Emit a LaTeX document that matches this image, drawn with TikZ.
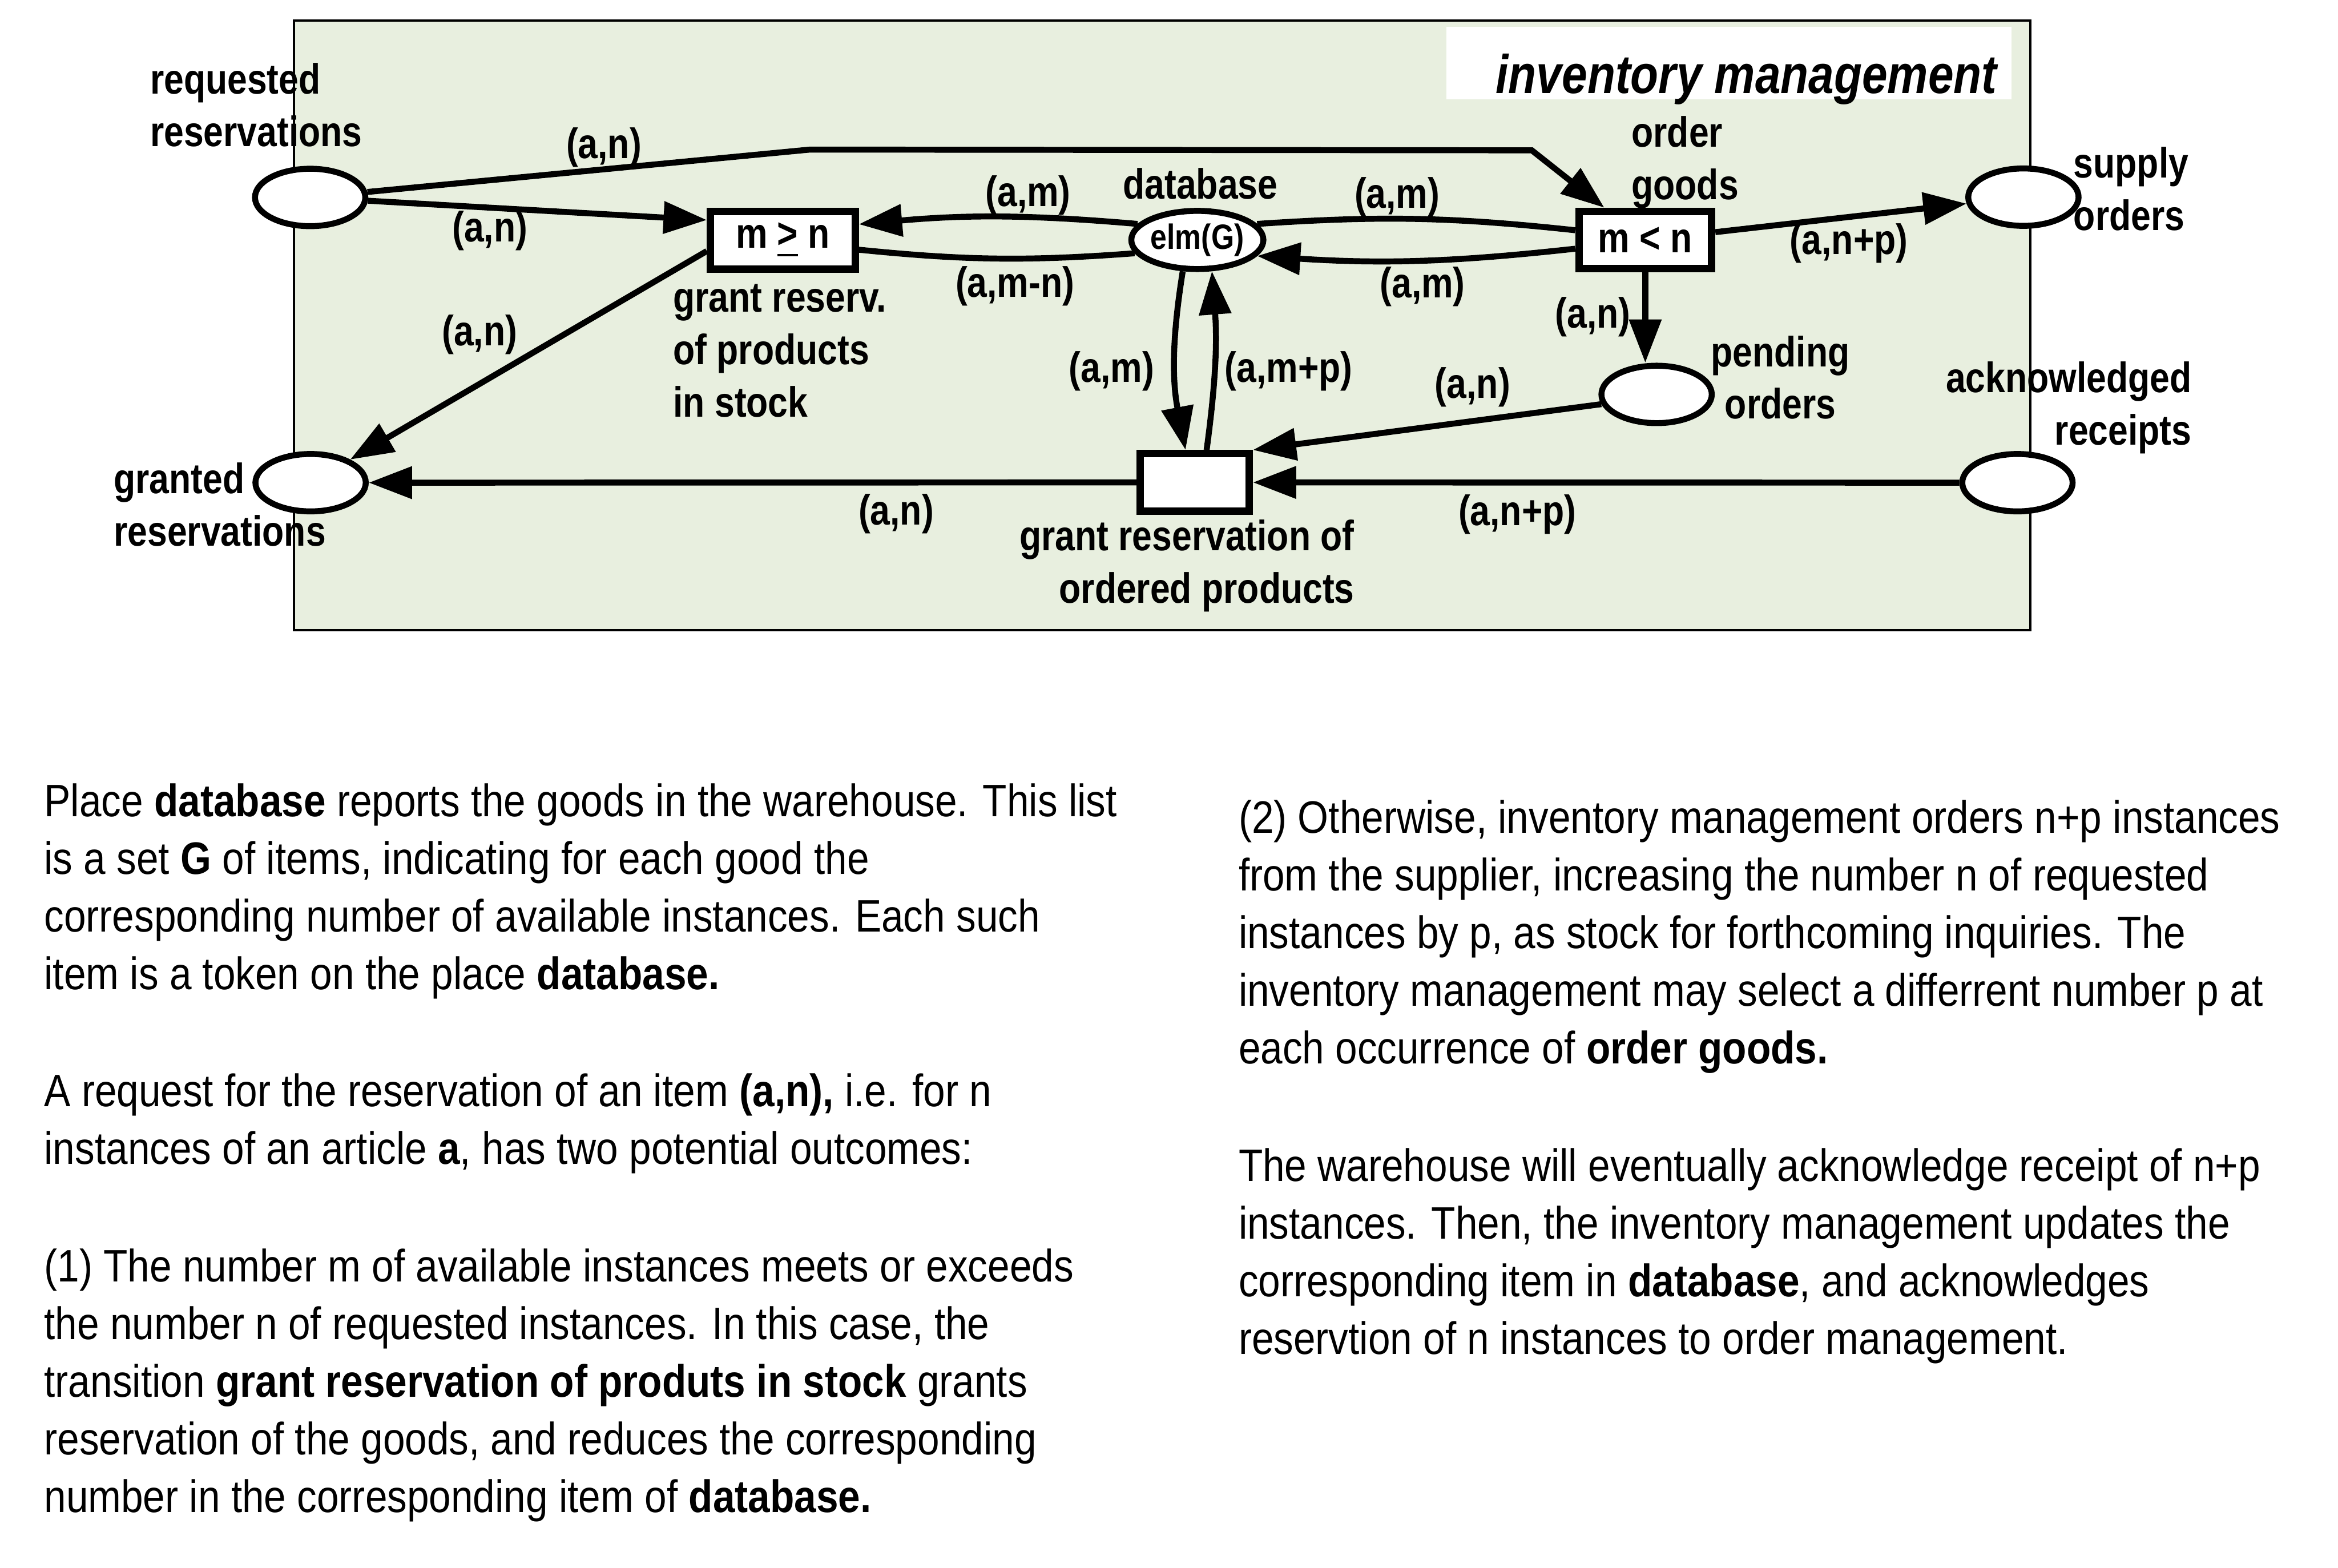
\documentclass[tikz,border=0pt]{standalone}
\usepackage{fontspec}
\setmainfont{Liberation Sans}
\newfontfamily\netfont[FakeStretch=0.84]{Liberation Sans}
\newfontfamily\txtfont[FakeStretch=0.87]{Liberation Sans}
\usepackage{tikz}
\usetikzlibrary{arrows.meta, shapes.geometric}
\definecolor{netbg}{RGB}{232,239,223}

\begin{document}
\begin{tikzpicture}[
  place/.style={ellipse, draw, fill=white, line width=0.04cm, minimum width=0.74cm,
                minimum height=0.385cm, inner sep=0pt},
  trans/.style={rectangle, draw, fill=white, line width=0.05cm, minimum height=0.385cm,
                inner sep=0pt, font=\netfont\bfseries\fontsize{8.1pt}{10pt}\selectfont},
  lbl/.style={inner sep=0pt, font=\netfont\bfseries\fontsize{8.1pt}{10pt}\selectfont},
  flow/.style={line width=0.04cm},
  arc/.style={flow, -{Triangle[length=0.29cm, width=0.21cm]}},
  note/.style={inner sep=0pt, anchor=base west, font=\txtfont\fontsize{8.68pt}{11pt}\selectfont},
]
  \useasboundingbox (0,0) rectangle (15.68,-10.513);

  % module frame and its title
  \node[draw, fill=netbg, line width=0.016cm, minimum width=11.646cm, minimum height=4.088cm,
        inner sep=0pt] (frame) at (7.793,-2.182) {};
  \node[fill=white, minimum width=3.79cm, minimum height=0.484cm, inner sep=0pt] (titlebox) at (11.596,-0.423) {};
  \node[lbl, anchor=base east, font=\netfont\bfseries\itshape\fontsize{10.4pt}{12pt}\selectfont] (title)
        at (13.40,-0.627) {inventory management};

  % places
  \node[place] (req) at (2.08,-1.324) {};
  \node[place] (gra) at (2.083,-3.237) {};
  \node[place, minimum width=0.87cm, minimum height=0.39cm,
        font=\netfont\bfseries\fontsize{6.7pt}{8pt}\selectfont] (db) at (8.03,-1.609) {elm(G)};
  \node[place] (sup) at (13.57,-1.322) {};
  \node[place] (pend) at (11.11,-2.645) {};
  \node[place] (ack) at (13.53,-3.237) {};

  % transitions
  \node[trans, minimum width=0.97cm] (mge) at (5.25,-1.612) {m \underline{>} n};
  \node[trans, minimum width=0.89cm] (mlt) at (11.034,-1.61) {m < n};
  \node[trans, minimum width=0.73cm] (ord) at (8.013,-3.235) {};

  % names of places and transitions (base = last line)
  \node[lbl, anchor=base west, align=left] (lreq) at (1.00,-0.980) {requested\\reservations};
  \node[lbl, anchor=base west, align=left] (lgra) at (0.756,-3.662) {granted\\reservations};
  \node[lbl, anchor=base] (ldb) at (8.05,-1.335) {database};
  \node[lbl, anchor=base west, align=left] (lmlt) at (10.935,-1.338) {order\\goods};
  \node[lbl, anchor=base west, align=left] (lsup) at (13.90,-1.545) {supply\\orders};
  \node[lbl, anchor=base, align=center] (lpend) at (11.94,-2.809) {pending\\orders};
  \node[lbl, anchor=base east, align=right] (lack) at (14.705,-2.985) {acknowledged\\receipts};
  \node[lbl, anchor=base west, align=left] (lmge) at (4.508,-2.796) {grant reserv.\\of products\\in stock};
  \node[lbl, anchor=base east, align=right] (lord) at (9.09,-4.043) {grant reservation of\\ordered products};

  % arcs
  \coordinate (bendA) at (5.432,-1.003);
  \coordinate (bendB) at (10.273,-1.008);
  \draw[arc] (req) -- (bendA) -- (bendB) -- (mlt);
  \draw[arc] (req) -- (mge.165);
  \draw[arc] (mge.188) -- (gra);
  \draw[arc] (db.165) to[bend right=5] (mge.12);
  \draw[flow] (mge.-7) to[bend right=5] (db.192);
  \draw[flow] (db.15) to[bend left=5] (mlt.172);
  \draw[arc] (mlt.187) to[bend left=5] (db.-15);
  \draw[arc] (db.-115) to[bend right=10] (ord.106);
  \draw[arc] (ord.70) to[bend right=6] (db.-65);
  \draw[arc] (mlt) -- (sup);
  \draw[arc] (mlt.south) -- (mlt.south |- pend.north);
  \draw[arc] (pend.190) -- (ord.north east);
  \draw[arc] (ack) -- (ord);
  \draw[arc] (ord) -- (gra);

  % arc inscriptions
  \node[lbl] (ins1) at (4.05,-0.988) {(a,n)};
  \node[lbl] (ins2) at (3.286,-1.547) {(a,n)};
  \node[lbl] (ins3) at (3.217,-2.245) {(a,n)};
  \node[lbl] (ins4) at (6.895,-1.309) {(a,m)};
  \node[lbl] (ins5) at (6.807,-1.919) {(a,m-n)};
  \node[lbl] (ins6) at (9.37,-1.323) {(a,m)};
  \node[lbl] (ins7) at (9.54,-1.922) {(a,m)};
  \node[lbl] (ins8) at (12.40,-1.632) {(a,n+p)};
  \node[lbl] (ins9) at (10.682,-2.124) {(a,n)};
  \node[lbl] (ins10) at (7.455,-2.488) {(a,m)};
  \node[lbl] (ins11) at (8.643,-2.491) {(a,m+p)};
  \node[lbl] (ins12) at (9.876,-2.597) {(a,n)};
  \node[lbl] (ins13) at (6.01,-3.445) {(a,n)};
  \node[lbl] (ins14) at (10.176,-3.45) {(a,n+p)};

  % explanation below the net
  \node[note] (notel) at (0.29,-5.475) {\parbox[t]{7.6cm}{%
    Place \textbf{database} reports the goods in the warehouse. This list\\
    is a set \textbf{G} of items, indicating for each good the\\
    corresponding number of available instances. Each such\\
    item is a token on the place \textbf{database.}\\[11.4pt]
    A request for the reservation of an item \textbf{(a,n),} i.e. for n\\
    instances of an article \textbf{a}, has two potential outcomes:\\[11.4pt]
    (1) The number m of available instances meets or exceeds\\
    the number n of requested instances. In this case, the\\
    transition \textbf{grant reservation of produts in stock} grants\\
    reservation of the goods, and reduces the corresponding\\
    number in the corresponding item of \textbf{database.}}};
  \node[note] (noter) at (8.30,-5.587) {\parbox[t]{7.3cm}{%
    (2) Otherwise, inventory management orders n+p instances\\
    from the supplier, increasing the number n of requested\\
    instances by p, as stock for forthcoming inquiries. The\\
    inventory management may select a differrent number p at\\
    each occurrence of \textbf{order goods.}\\[11.4pt]
    The warehouse will eventually acknowledge receipt of n+p\\
    instances. Then, the inventory management updates the\\
    corresponding item in \textbf{database}, and acknowledges\\
    reservtion of n instances to order management.}};
\end{tikzpicture}
\end{document}
